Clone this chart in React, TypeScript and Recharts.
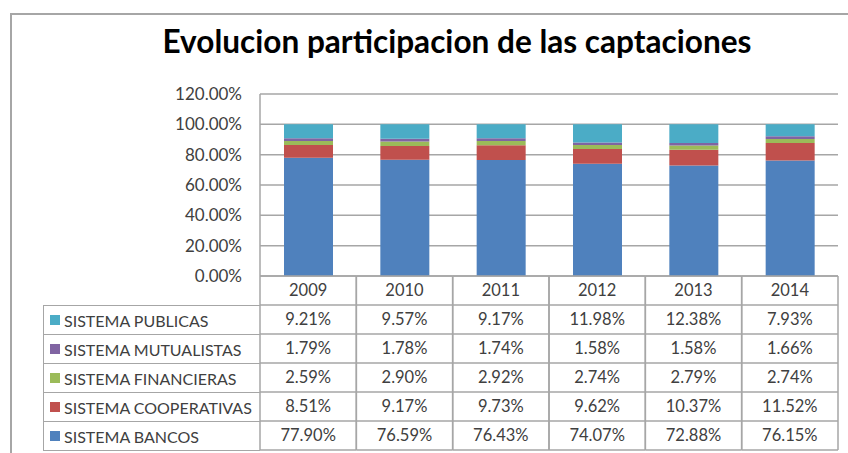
import React from 'react';
import { BarChart, Bar, XAxis, YAxis, CartesianGrid, Legend } from 'recharts';

const years = ['2009', '2010', '2011', '2012', '2013', '2014'];
const bancos = [77.9, 76.59, 76.43, 74.07, 72.88, 76.15];
const cooperativas = [8.51, 9.17, 9.73, 9.62, 10.37, 11.52];
const financieras = [2.59, 2.9, 2.92, 2.74, 2.79, 2.74];
const mutualistas = [1.79, 1.78, 1.74, 1.58, 1.58, 1.66];
const publicas = [9.21, 9.57, 9.17, 11.98, 12.38, 7.93];
const yTicks = [0, 0.2, 0.4, 0.6, 0.8, 1.0, 1.2];

// stack order bottom -> top; the table lists them top -> bottom
const series = [
  { key: 'bancos', name: 'SISTEMA BANCOS', values: bancos, color: '#4F81BD' },
  { key: 'cooperativas', name: 'SISTEMA COOPERATIVAS', values: cooperativas, color: '#C0504D' },
  { key: 'financieras', name: 'SISTEMA FINANCIERAS', values: financieras, color: '#9BBB59' },
  { key: 'mutualistas', name: 'SISTEMA MUTUALISTAS', values: mutualistas, color: '#8064A2' },
  { key: 'publicas', name: 'SISTEMA PUBLICAS', values: publicas, color: '#4BACC6' },
];
const tableRows = [...series].reverse();

const data = years.map((year, i) => {
  const row: Record<string, string | number> = { year };
  series.forEach((s) => {
    row[s.key] = s.values[i] / 100;
  });
  return row;
});

const W = 848;
const H = 453;
const PLOT_LEFT = 260;
const PLOT_RIGHT = 838;
const PLOT_TOP = 94;
const PLOT_BOTTOM = 276;
const ROW_H = 29;
const COL_W = (PLOT_RIGHT - PLOT_LEFT) / years.length;
const LEGEND_LEFT = 43;
const LINE = '#a6a6a6';
const TEXT = '#404040';
const FONT = 'Lato, "Open Sans", sans-serif';

const fmtPct = (v: number) => `${(v * 100).toFixed(2)}%`;

interface TickProps {
  x?: number;
  y?: number;
  payload?: { value: string; index: number };
}

// Each x tick draws one column of the data table under the plot
function TableColumnTick({ x = 0, payload }: TickProps) {
  const idx = payload ? payload.index : 0;
  const left = x - COL_W / 2;
  const right = x + COL_W / 2;
  const rows = tableRows.length + 1;
  const bottom = PLOT_BOTTOM + rows * ROW_H;
  return (
    <g>
      {Array.from({ length: rows + 1 }, (_, r) => (
        <line key={r} x1={left} x2={right} y1={PLOT_BOTTOM + r * ROW_H} y2={PLOT_BOTTOM + r * ROW_H} stroke={LINE} strokeWidth={1.5} />
      ))}
      <line x1={left} x2={left} y1={PLOT_BOTTOM} y2={bottom} stroke={LINE} strokeWidth={1.5} />
      <line x1={right} x2={right} y1={PLOT_BOTTOM} y2={bottom} stroke={LINE} strokeWidth={1.5} />
      <text x={x} y={PLOT_BOTTOM + ROW_H / 2} dy="0.36em" textAnchor="middle" fontSize={16.5} fill={TEXT} fontFamily={FONT}>
        {payload?.value}
      </text>
      {tableRows.map((s, r) => (
        <text key={s.key} x={x} y={PLOT_BOTTOM + (r + 1.5) * ROW_H} dy="0.36em" textAnchor="middle" fontSize={16.5} fill={TEXT} fontFamily={FONT}>
          {s.values[idx].toFixed(2)}%
        </text>
      ))}
    </g>
  );
}

interface LegendItem {
  value?: string;
  color?: string;
}

function TableLegend({ payload }: { payload?: LegendItem[] }) {
  const items = [...(payload ?? [])].reverse();
  return (
    <div style={{ width: PLOT_LEFT - LEGEND_LEFT, borderLeft: `1.5px solid ${LINE}`, boxSizing: 'border-box' }}>
      {items.map((it) => (
        <div
          key={it.value}
          style={{
            height: ROW_H,
            borderTop: `1.5px solid ${LINE}`,
            boxSizing: 'border-box',
            display: 'flex',
            alignItems: 'center',
            paddingLeft: 6,
            fontFamily: FONT,
            fontSize: 16,
            color: TEXT,
            whiteSpace: 'nowrap',
          }}
        >
          <span style={{ display: 'inline-block', width: 10, height: 10, background: it.color, marginRight: 4 }} />
          {it.value}
        </div>
      ))}
      <div style={{ borderTop: `1.5px solid ${LINE}` }} />
    </div>
  );
}

export default function App() {
  return (
    <div style={{ position: 'fixed', left: 0, top: 0, width: W, height: H, overflow: 'hidden', background: '#fff' }}>
      <div style={{ position: 'absolute', left: 10, top: 13, width: 900, height: 500, border: `2px solid ${LINE}` }} />
      <svg style={{ position: 'absolute', left: 0, top: 0 }} width={W} height={64}>
        <text x={457} y={53} textAnchor="middle" fontSize={32} fontWeight={700} fill="#000" fontFamily={FONT} textLength={589} lengthAdjust="spacingAndGlyphs">
          Evolucion participacion de las captaciones
        </text>
      </svg>
      <div style={{ position: 'absolute', left: 0, top: 0 }}>
        <BarChart
          width={W}
          height={H}
          data={data}
          margin={{ top: PLOT_TOP, right: W - PLOT_RIGHT, bottom: 2, left: PLOT_LEFT - 80 }}
          barSize={49}
        >
          <CartesianGrid vertical={false} stroke={LINE} strokeWidth={1.5} />
          <XAxis
            dataKey="year"
            height={H - PLOT_BOTTOM - 2}
            axisLine={false}
            tickLine={false}
            interval={0}
            tick={<TableColumnTick />}
          />
          <YAxis
            width={80}
            domain={[0, 1.2]}
            ticks={yTicks}
            tickFormatter={fmtPct}
            axisLine={{ stroke: LINE, strokeWidth: 1.5 }}
            tickLine={false}
            tickSize={0}
            tickMargin={18}
            tick={{ fontSize: 17, fill: TEXT, fontFamily: FONT }}
          />
          <Legend
            layout="vertical"
            verticalAlign="top"
            align="left"
            wrapperStyle={{ position: 'absolute', left: LEGEND_LEFT, top: PLOT_BOTTOM + ROW_H, width: 0, height: 0, overflow: 'visible' }}
            content={<TableLegend />}
          />
          {series.map((s) => (
            <Bar key={s.key} dataKey={s.key} name={s.name} stackId="a" fill={s.color} isAnimationActive={false} />
          ))}
        </BarChart>
      </div>
    </div>
  );
}
